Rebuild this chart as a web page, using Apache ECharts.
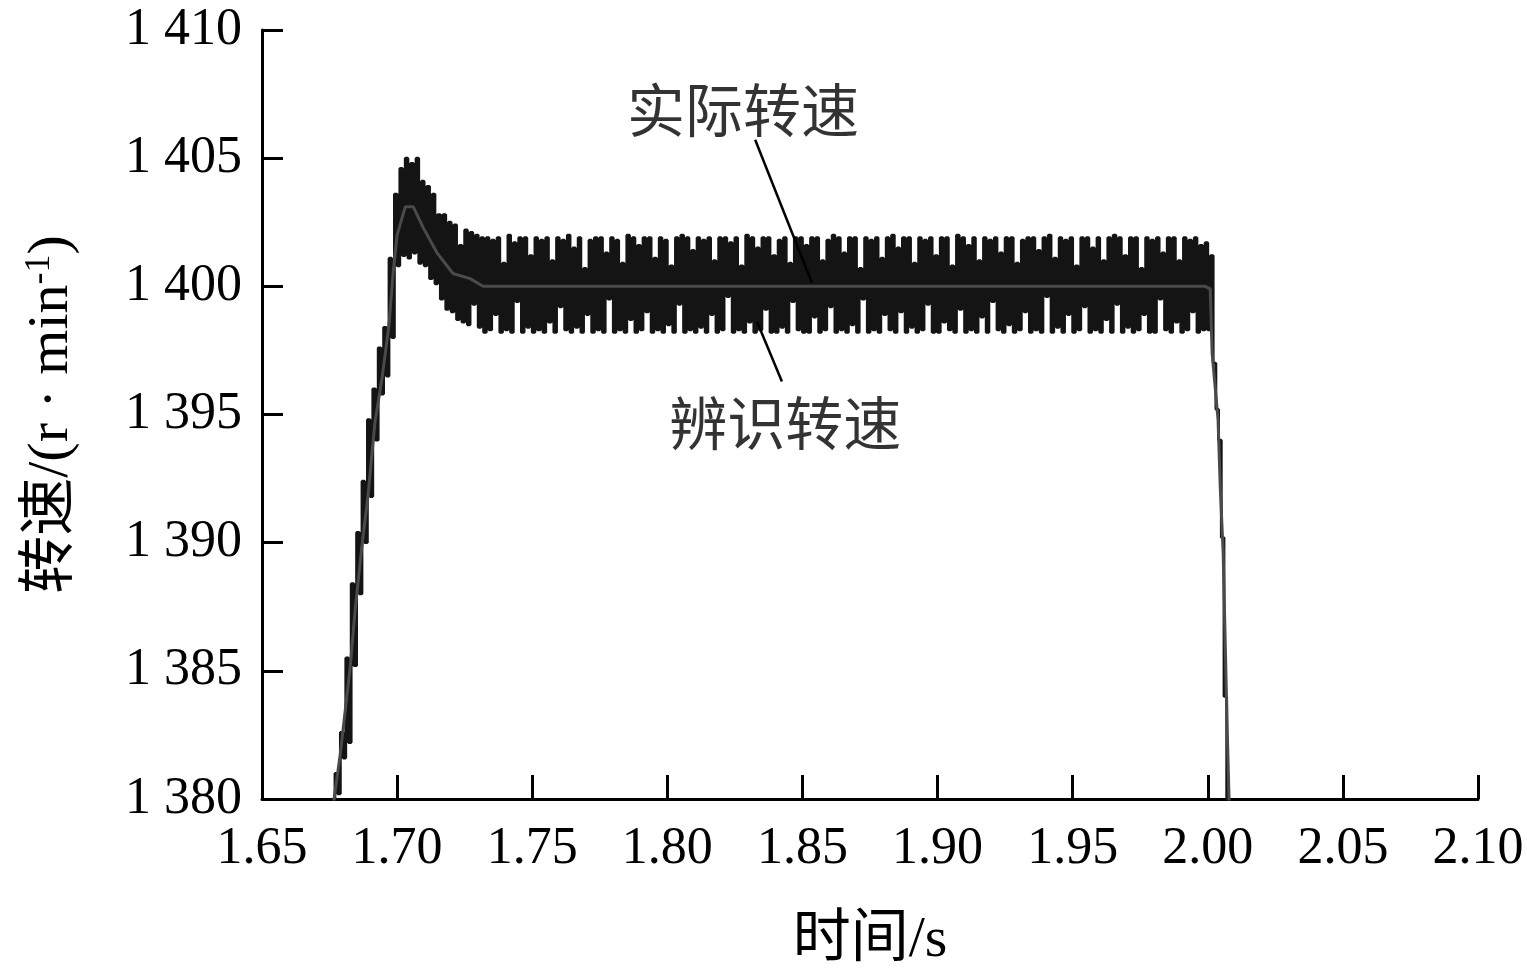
<!DOCTYPE html>
<html><head><meta charset="utf-8">
<script src="https://cdn.jsdelivr.net/npm/echarts@6/dist/echarts.min.js"></script>
<style>html,body{margin:0;padding:0;background:#fff}#c{width:1527px;height:975px}</style>
</head><body><div id="c"></div>
<script>
// Identified speed (black, noisy): sampled every timeStep seconds from timeStart
const timeStart = 1.676;
const timeStep = 0.001;
const identifiedSpeed = [
  // rise 1.676 .. 1.700
  1378.8,1381.0,1380.2,1382.6,1381.6,1385.5,1382.2,1388.4,1385.2,1390.4,
  1388.0,1392.4,1390.0,1394.8,1391.8,1396.0,1394.0,1397.6,1395.8,1398.4,
  1396.5,1401.1,1398.0,1403.6,1400.8,
  // overshoot 1.701 .. 1.731
  1404.6,1401.2,1405.0,1401.1,1404.8,1401.3,1405.0,1400.9,1404.1,1400.8,
  1403.9,1400.3,1403.6,1400.1,1402.8,1399.5,1402.8,1399.1,1402.5,1399.0,
  1402.4,1398.7,1401.6,1398.6,1402.2,1398.5,1402.1,1399.3,1402.0,1398.4,
  1401.9,
  // steady 1.732 .. 1.999
  1398.2,1401.9,1398.3,1401.8,1398.9,1401.9,1398.2,1400.9,1398.3,1402.0,1398.2,1401.7,1399.4,1401.9,1398.2,1401.9,1398.4,1401.2,1398.2,1401.9,
  1398.3,1401.8,1398.2,1401.9,1398.6,1401.0,1398.2,1401.9,1399.2,1401.8,1398.3,1402.0,1398.2,1401.5,1398.4,1401.9,1398.2,1400.7,1398.9,1401.8,
  1398.2,1401.9,1398.3,1401.9,1398.2,1401.3,1399.5,1401.9,1398.2,1401.8,1398.3,1400.9,1398.2,1402.0,1398.7,1401.9,1398.2,1401.6,1398.3,1401.9,
  1399.0,1401.9,1398.2,1401.1,1398.3,1401.9,1398.2,1401.8,1398.5,1400.8,1398.2,1401.9,1399.3,1402.0,1398.2,1401.9,1398.3,1401.4,1398.2,1401.9,
  1398.4,1401.8,1398.2,1401.9,1398.9,1401.0,1398.2,1401.9,1398.3,1401.9,1399.6,1401.7,1398.2,1401.9,1398.3,1400.8,1398.2,1402.0,1398.6,1401.9,
  1398.2,1401.5,1398.3,1401.9,1399.1,1401.9,1398.2,1401.2,1398.2,1401.8,1398.4,1401.9,1398.2,1400.9,1399.4,1401.9,1398.3,1401.9,1398.2,1401.6,
  1398.2,1401.9,1398.8,1401.9,1398.2,1401.0,1398.3,1401.8,1399.2,1402.0,1398.2,1401.9,1398.3,1401.3,1398.2,1401.9,1398.5,1401.9,1398.2,1400.7,
  1399.5,1401.9,1398.2,1401.8,1398.3,1401.9,1398.2,1401.1,1398.9,1401.9,1398.3,1402.0,1398.2,1401.5,1399.0,1401.9,1398.2,1401.9,1398.4,1400.9,
  1398.2,1401.9,1398.3,1401.8,1399.3,1401.9,1398.2,1401.2,1398.2,1401.9,1398.6,1401.9,1398.3,1400.8,1398.2,1402.0,1399.1,1401.9,1398.2,1401.6,
  1398.3,1401.9,1398.2,1401.0,1398.8,1401.9,1398.2,1401.8,1399.4,1401.9,1398.3,1401.3,1398.2,1401.9,1398.5,1401.9,1398.2,1400.9,1398.3,1401.8,
  1399.0,1401.9,1398.2,1401.9,1398.3,1401.4,1398.2,1401.9,1399.6,1402.0,1398.2,1401.1,1398.4,1401.9,1398.2,1401.8,1398.9,1401.9,1398.2,1400.8,
  1398.3,1401.9,1399.2,1401.9,1398.2,1401.5,1398.3,1401.9,1398.2,1401.0,1398.7,1401.9,1398.2,1402.0,1399.3,1401.9,1398.2,1401.2,1398.4,1401.9,
  1398.2,1401.9,1398.3,1400.7,1398.9,1401.9,1398.2,1401.8,1398.2,1401.9,1399.5,1401.3,1398.3,1401.9,1398.2,1401.9,1398.6,1401.0,1398.2,1401.9,
  1398.3,1401.8,1399.0,1401.9,1398.2,1401.6,1398.3,1401.7,
  // fall 2.000 .. 2.007
  1398.3,1401.2,1397.0,1395.2,1394.0,1390.2,1384.0,1378.5
];

// Actual speed (grey, smooth)
const actualTimes = [1.6760,1.6789,1.6826,1.6844,1.6870,1.6892,1.6918,1.6944,1.6970,1.6985,1.7000,1.7030,1.7060,1.7096,1.7148,1.7207,1.7270,1.7318,1.9990,2.0009,2.0016,2.0038,2.0046,2.0057,2.0071,2.0080];
const actualSpeed = [1379.5,1381.7,1385.1,1387.3,1389.9,1391.8,1394.7,1396.4,1398.5,1400.5,1402.0,1403.1,1403.1,1402.3,1401.3,1400.5,1400.3,1400.0,1400.0,1399.9,1397.4,1394.8,1392.2,1389.6,1383.1,1379.5];

const annotationLabels = ['实际转速', '辨识转速'];
const annotationLabelAt = [[1.828, 1406.6], [1.8436, 1394.4]];
const annotationLeaders = [
  [[1.8325, 1405.72], [1.8535, 1400.14]],
  [[1.8332, 1398.62], [1.8424, 1396.29]]
];

const serif = '"Liberation Serif", "Times New Roman", "Noto Sans CJK SC", serif';

const identifiedData = identifiedSpeed.map((v, i) => [+(timeStart + i * timeStep).toFixed(4), v]);
const actualData = actualTimes.map((t, i) => [t, actualSpeed[i]]);

const chart = echarts.init(document.getElementById('c'), null, {renderer: 'canvas'});
chart.setOption({
  animation: false,
  backgroundColor: '#fff',
  grid: {left: 262, right: 49, top: 30, bottom: 175, containLabel: false},
  xAxis: {
    type: 'value', min: 1.65, max: 2.10, interval: 0.05,
    name: '时间/s', nameLocation: 'middle', nameGap: 113,
    nameTextStyle: {fontFamily: serif, fontSize: 58, color: '#000'},
    axisLine: {lineStyle: {color: '#000', width: 3}},
    axisTick: {inside: true, length: 24, lineStyle: {color: '#000', width: 3}},
    axisLabel: {fontFamily: serif, fontSize: 52, color: '#000', margin: 24,
      formatter: v => v.toFixed(2)},
    splitLine: {show: false}
  },
  yAxis: {
    type: 'value', min: 1380, max: 1410, interval: 5,
    name: '{a|转速/(r · min}{s|-1}{a|)}', nameLocation: 'middle', nameGap: 178, nameRotate: 90,
    nameTextStyle: {fontFamily: serif, fontSize: 58, color: '#000',
      rich: {
        a: {fontFamily: serif, fontSize: 58, color: '#000', lineHeight: 64},
        s: {fontFamily: serif, fontSize: 36, color: '#000', lineHeight: 64, padding: [0, 0, 24, 0]}
      }},
    axisLine: {lineStyle: {color: '#000', width: 3}},
    axisTick: {inside: true, length: 21, lineStyle: {color: '#000', width: 3}},
    axisLabel: {fontFamily: serif, fontSize: 52, color: '#000', margin: 20,
      formatter: v => String(v).replace(/^(\d)(\d{3})$/, '$1 $2')},
    splitLine: {show: false}
  },
  series: [
    {
      name: '辨识转速', type: 'line', step: 'end', data: identifiedData,
      showSymbol: false, symbol: 'none', clip: true, z: 2,
      lineStyle: {color: '#141414', width: 2.8}
    },
    {
      name: '实际转速', type: 'line', data: actualData,
      showSymbol: false, symbol: 'none', clip: true, z: 3,
      lineStyle: {color: '#4a4a4a', width: 3}
    },
    {
      name: 'annotations', type: 'scatter', symbolSize: 0, z: 5,
      data: annotationLabelAt.map((p, i) => ({value: p, name: annotationLabels[i]})),
      label: {show: true, position: 'inside', formatter: '{b}', fontFamily: serif, fontSize: 58, color: '#000'},
      markLine: {
        silent: true, symbol: 'none', animation: false,
        label: {show: false},
        lineStyle: {color: '#000', width: 2.5, type: 'solid'},
        data: annotationLeaders.map(p => [{coord: p[0]}, {coord: p[1]}])
      }
    }
  ]
});
</script>
</body></html>
